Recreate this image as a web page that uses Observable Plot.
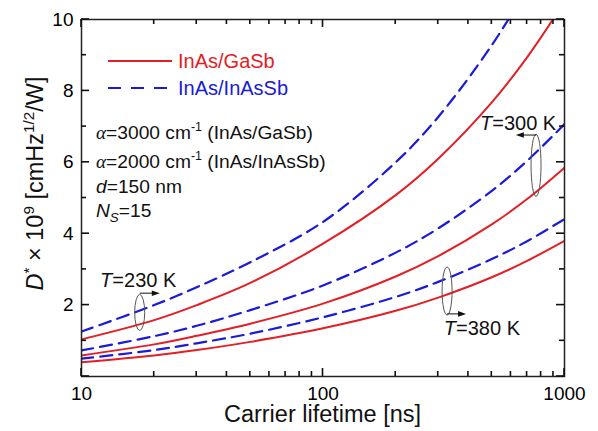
<!DOCTYPE html>
<html><head><meta charset="utf-8">
<script src="https://cdn.jsdelivr.net/npm/d3@7"></script>
<script src="https://cdn.jsdelivr.net/npm/@observablehq/plot@0.6"></script>
<style>
body{margin:0;background:#fff}
#chart svg{font-family:Arial,"Liberation Sans",sans-serif;background:#fff}
</style>
</head><body><div id="chart"></div>
<script>
// ---- data ----
const lifetime = [10, 20, 30, 50, 100, 200, 300, 500, 700, 1000];           // ns
const gasb230   = [1.04, 1.58, 2.00, 2.62, 3.72, 5.08, 6.10, 7.68, 8.94, 10.5];
const inassb230 = [1.26, 2.00, 2.50, 3.20, 4.33, 6.00, 7.27, 9.28, 10.9, 12.9];
const gasb300   = [0.59, 0.90, 1.14, 1.48, 2.04, 2.80, 3.37, 4.26, 4.97, 5.85];
const inassb300 = [0.73, 1.13, 1.42, 1.86, 2.55, 3.47, 4.15, 5.20, 6.04, 7.07];
const gasb380   = [0.40, 0.59, 0.74, 0.97, 1.35, 1.84, 2.21, 2.78, 3.24, 3.80];
const inassb380 = [0.50, 0.74, 0.93, 1.20, 1.66, 2.23, 2.65, 3.29, 3.79, 4.41];

const materials = ["InAs/GaSb", "InAs/InAsSb"];
const temperatures = [230, 300, 380];
const xMajor = [10, 100, 1000];
const xMinor = [20, 30, 40, 50, 60, 70, 80, 90, 200, 300, 400, 500, 600, 700, 800, 900];
const yMajor = [0, 2, 4, 6, 8, 10];
const yMinor = [1, 3, 5, 7, 9];

// annotations: label text anchor, ellipse centre, arrow (data coordinates)
const annotations = [
  {T: 230, textTau: 12.0, textD: 2.49, ellTau: 17.5, ellD: 1.78, ry: 18, arrFrom: 17.5, arrTo: 21.2, arrD: 2.32},
  {T: 300, textTau: 449,  textD: 6.89, ellTau: 766,  ellD: 5.90, ry: 31, arrFrom: 766,  arrTo: 632,  arrD: 6.75},
  {T: 380, textTau: 318,  textD: 1.15, ellTau: 328,  ellD: 2.38, ry: 24, arrFrom: 328,  arrTo: 393,  arrD: 1.74}
];

const RED = "#e31e24", BLUE = "#1a1ad8";

function rows(material, T, vals) {
  return lifetime.map((t, i) => ({material, T, tau: t, D: vals[i]}));
}
const gasbRows = [...rows(materials[0], 230, gasb230), ...rows(materials[0], 300, gasb300), ...rows(materials[0], 380, gasb380)];
const inassbRows = [...rows(materials[1], 230, inassb230), ...rows(materials[1], 300, inassb300), ...rows(materials[1], 380, inassb380)];

const plot = Plot.plot({
  width: 598, height: 431,
  marginLeft: 81, marginRight: 34, marginTop: 19, marginBottom: 55,
  x: {type: "log", domain: [10, 1000]},
  y: {domain: [0, 10]},
  marks: [
    Plot.line(inassbRows, {x: "tau", y: "D", z: "T", stroke: BLUE, strokeWidth: 2.2, strokeDasharray: "12,7", curve: "catmull-rom", clip: true}),
    Plot.line(gasbRows, {x: "tau", y: "D", z: "T", stroke: RED, strokeWidth: 2, curve: "catmull-rom", clip: true}),
    Plot.axisX({anchor: "bottom", ticks: xMajor, tickSize: 0, tickPadding: 10, tickFormat: d => String(d), fontSize: 19, label: null}),
    Plot.axisY({anchor: "left", ticks: yMajor, tickSize: 0, tickPadding: 8, tickFormat: d => d === 0 ? "" : String(d), fontSize: 19, label: null}),
    Plot.frame({stroke: "#222", strokeWidth: 1.5})
  ]
});

document.getElementById("chart").appendChild(plot);

(function () {
const svg = d3.select(plot);
const sx = plot.scale("x"), sy = plot.scale("y");
const X = v => sx.apply(v), Y = v => sy.apply(v);
const fL = X(10), fT = Y(10), fB = Y(0), fR = X(1000);

const g = svg.append("g");

// inward ticks on all four sides
const tk = g.append("g");
const tw = 1.6;
for (const [vals, len] of [[xMajor, 8], [xMinor, 5]]) {
  for (const v of vals) {
    const x = X(v);
    tk.append("rect").attr("x", x - tw / 2).attr("y", fB - len).attr("width", tw).attr("height", len).attr("fill", "#111");
    tk.append("rect").attr("x", x - tw / 2).attr("y", fT).attr("width", tw).attr("height", len).attr("fill", "#111");
  }
}
for (const [vals, len] of [[yMajor, 8], [yMinor, 5]]) {
  for (const v of vals) {
    const y = Y(v);
    tk.append("rect").attr("x", fL).attr("y", y - tw / 2).attr("width", len).attr("height", tw).attr("fill", "#111");
    tk.append("rect").attr("x", fR - len).attr("y", y - tw / 2).attr("width", len).attr("height", tw).attr("fill", "#111");
  }
}

// rich text helper: parts = [[text, style]]
function rich(g, x, y, parts, opts = {}) {
  const size = opts.size || 20;
  const t = g.append("text").attr("x", x).attr("y", y)
    .attr("font-size", size).attr("fill", opts.fill || "#111")
    .attr("text-anchor", opts.anchor || "start");
  if (opts.transform) t.attr("transform", opts.transform);
  let shift = 0;
  for (const [txt, st = {}] of parts) {
    const s = t.append("tspan").text(txt);
    const target = st.sup ? -0.4 * size : st.sub ? 0.25 * size : 0;
    if (target !== shift) { s.attr("dy", target - shift); shift = target; }
    if (st.italic) s.attr("font-style", "italic");
    if (st.serif) s.attr("font-family", "'Liberation Serif','DejaVu Serif',serif");
    if (st.sup || st.sub) s.attr("font-size", (st.scale || 0.65) * size);
  }
  return t;
}

// legend
const legY = fT + 42;
g.append("line").attr("x1", fL + 27).attr("x2", fL + 91).attr("y1", legY).attr("y2", legY)
  .attr("stroke", RED).attr("stroke-width", 2);
g.append("line").attr("x1", fL + 27).attr("x2", fL + 91).attr("y1", legY + 27).attr("y2", legY + 27)
  .attr("stroke", BLUE).attr("stroke-width", 2.2).attr("stroke-dasharray", "13,10");
rich(g, fL + 97, legY + 7, [[materials[0]]], {fill: RED});
rich(g, fL + 97, legY + 34, [[materials[1]]], {fill: BLUE});

// parameter text block
const tx = fL + 15, fs = 19.2;
rich(g, tx, fT + 120, [["α", {italic: true, serif: true}], ["=3000 cm"], ["-1", {sup: true}], [" (InAs/GaSb)"]], {size: fs});
rich(g, tx, fT + 149, [["α", {italic: true, serif: true}], ["=2000 cm"], ["-1", {sup: true}], [" (InAs/InAsSb)"]], {size: fs});
rich(g, tx, fT + 174, [["d", {italic: true}], ["=150 nm"]], {size: fs});
rich(g, tx, fT + 198, [["N", {italic: true}], ["S", {italic: true, sub: true, scale: 0.7}], ["=15"]], {size: fs});

// temperature annotations
for (const a of annotations) {
  rich(g, X(a.textTau), Y(a.textD), [["T", {italic: true}], [`=${a.T} K`]]);
  g.append("ellipse").attr("cx", X(a.ellTau)).attr("cy", Y(a.ellD)).attr("rx", 5).attr("ry", a.ry)
    .attr("fill", "none").attr("stroke", "#555").attr("stroke-width", 1);
  const x1 = X(a.arrFrom), x2 = X(a.arrTo), yy = Y(a.arrD);
  const dir = Math.sign(x2 - x1);
  g.append("line").attr("x1", x1).attr("x2", x2 - dir * 6).attr("y1", yy).attr("y2", yy)
    .attr("stroke", "#111").attr("stroke-width", 1);
  g.append("path").attr("d", `M${x2},${yy}L${x2 - dir * 8},${yy - 2.8}L${x2 - dir * 8},${yy + 2.8}Z`).attr("fill", "#111");
}

// axis titles
rich(g, (fL + fR) / 2, 422, [["Carrier lifetime [ns]"]], {anchor: "middle", size: 23.5});
rich(g, 0, 0, [["D", {italic: true}], ["*", {sup: true}], [" × 10"], ["9", {sup: true}], [" [cmHz"], ["1/2", {sup: true}], ["/W]"]],
  {anchor: "middle", size: 23.5, transform: `translate(43,${(fT + fB) / 2 - 14}) rotate(-90)`});
})();
</script>
</body></html>
